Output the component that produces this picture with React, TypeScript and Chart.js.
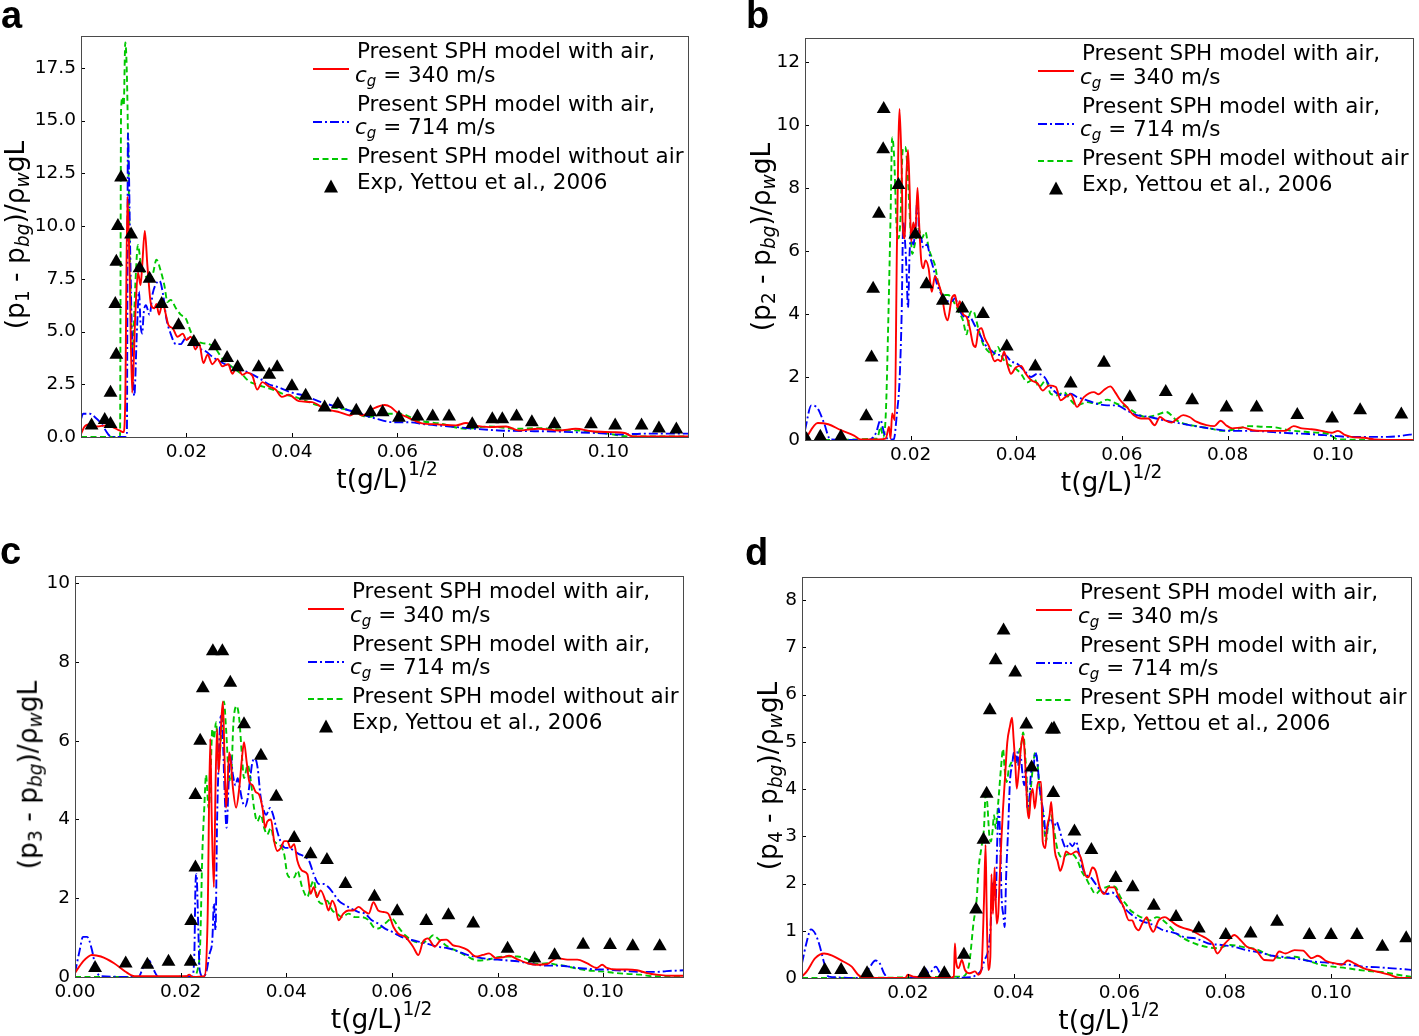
import React, { useEffect, useRef } from 'react';
import { Chart, registerables } from 'chart.js';

Chart.register(...registerables);

type Pt = [number, number];

// ---------- shared axis data ----------
const X_MAX = 0.1153;
const X_TICKS_ABD = [0.02, 0.04, 0.06, 0.08, 0.1];
const X_TICKS_C = [0, 0.02, 0.04, 0.06, 0.08, 0.1];
const Y_TICKS_A = [0, 2.5, 5, 7.5, 10, 12.5, 15, 17.5];
const Y_TICKS_B = [0, 2, 4, 6, 8, 10, 12];
const Y_TICKS_C = [0, 2, 4, 6, 8, 10];
const Y_TICKS_D = [0, 1, 2, 3, 4, 5, 6, 7, 8];

const LEGEND_AIR = 'Present SPH model with air,';
const LEGEND_NOAIR = 'Present SPH model without air';
const LEGEND_EXP = 'Exp, Yettou et al., 2006';
const CG_RED = '340 m/s';
const CG_BLUE = '714 m/s';
const X_TITLE = 't(g/L)';
const X_TITLE_SUP = '1/2';
const PANEL_LETTERS = ['a', 'b', 'c', 'd'];

// ---------- panel a ----------
const aRed: Pt[] = [
  [0, 0.15], [0.0007, 0.5], [0.002, 0.62], [0.003, 0.5], [0.0048, 0.55], [0.006, 0.47], [0.0073, 0.31], [0.0081, 0.23],
  [0.0084, 1.9], [0.0088, 11.4], [0.0092, 8.1], [0.0097, 2.1], [0.0103, 5.8], [0.0108, 7.8], [0.0113, 7.2], [0.0116, 8.1],
  [0.0121, 9.77], [0.0126, 8.1], [0.0133, 6.25], [0.0139, 6.1], [0.0143, 6.3], [0.0148, 5.8], [0.0155, 6.4], [0.016, 5.9],
  [0.0166, 5.3], [0.0174, 5.15], [0.0183, 4.75], [0.0193, 4.9], [0.02, 4.6], [0.0208, 4.75], [0.0217, 4.15], [0.0224, 4.45],
  [0.0232, 3.5], [0.024, 3.9], [0.0249, 3.45], [0.0259, 3.7], [0.0268, 3.35], [0.0279, 3.45], [0.0287, 3.0], [0.0296, 3.35],
  [0.0306, 2.95], [0.0315, 3.05], [0.0325, 2.9], [0.0334, 2.25], [0.0344, 2.6], [0.0356, 2.4], [0.0369, 2.25], [0.0381, 1.9],
  [0.0394, 2.0], [0.0413, 1.7], [0.0438, 1.65], [0.0463, 1.33], [0.0476, 1.25], [0.0491, 1.17], [0.051, 1.02], [0.0522, 1.17],
  [0.0533, 1.02], [0.0553, 1.33], [0.0576, 1.52], [0.0588, 1.41], [0.0599, 1.17], [0.0621, 0.91], [0.0645, 0.66], [0.0676, 0.6],
  [0.0711, 0.55], [0.073, 0.66], [0.0745, 0.55], [0.0776, 0.47], [0.0806, 0.5], [0.083, 0.31], [0.0868, 0.39], [0.0907, 0.31],
  [0.0938, 0.39], [0.0969, 0.27], [0.1008, 0.23], [0.1031, 0.19], [0.1046, 0.03], [0.1153, 0.03],
];
const aBlue: Pt[] = [
  [0, 0.85], [0.0004, 1.1], [0.0017, 1.1], [0.0026, 0.95], [0.0039, 0.62], [0.0051, 0.15], [0.0058, 0], [0.0086, 0],
  [0.0087, 0.1], [0.0089, 14.4], [0.0091, 12.5], [0.0093, 9.2], [0.0098, 3.4], [0.0101, 1.95], [0.0106, 5.0], [0.011, 6.9],
  [0.0113, 5.3], [0.0116, 4.9], [0.0119, 5.9], [0.0123, 6.25], [0.013, 5.8], [0.0136, 6.8], [0.0141, 7.2], [0.0149, 7.4],
  [0.0156, 6.7], [0.0162, 5.6], [0.017, 4.9], [0.018, 4.4], [0.0189, 4.4], [0.0199, 4.7], [0.0211, 4.5], [0.0224, 4.2],
  [0.0237, 4.05], [0.0249, 3.8], [0.0262, 3.6], [0.0281, 3.35], [0.03, 3.2], [0.0318, 3.05], [0.0337, 2.8], [0.0356, 2.5],
  [0.0375, 2.35], [0.04, 2.1], [0.0425, 1.95], [0.045, 1.7], [0.0499, 1.33], [0.053, 1.1], [0.0561, 0.86], [0.0592, 0.7],
  [0.0621, 0.7], [0.0652, 0.6], [0.0699, 0.5], [0.0746, 0.39], [0.0792, 0.31], [0.0838, 0.28], [0.0884, 0.27], [0.093, 0.23],
  [0.0977, 0.19], [0.1022, 0.12], [0.1069, 0.16], [0.1115, 0.16], [0.1153, 0.16],
];
const aGreen: Pt[] = [
  [0, 0], [0.0074, 0], [0.0076, 15.5], [0.0079, 16.1], [0.0081, 15.7], [0.0084, 18.7], [0.0087, 17.2], [0.009, 12.8],
  [0.0093, 8.1], [0.0096, 5.0], [0.0098, 4.2], [0.0103, 7.2], [0.0108, 9.1], [0.0114, 8.1], [0.012, 7.8], [0.013, 7.3],
  [0.0137, 7.8], [0.0143, 8.4], [0.0152, 7.8], [0.0158, 7.2], [0.0164, 6.4], [0.017, 6.5], [0.018, 6.1], [0.0189, 5.8],
  [0.0199, 5.6], [0.0208, 5.0], [0.0218, 4.6], [0.023, 4.45], [0.0243, 4.4], [0.0255, 4.2], [0.0268, 3.7], [0.028, 3.45],
  [0.0293, 3.2], [0.0306, 2.95], [0.0318, 2.65], [0.0331, 2.5], [0.035, 2.35], [0.0369, 2.2], [0.0388, 2.0], [0.0406, 1.9],
  [0.0432, 1.65], [0.045, 1.5], [0.0513, 1.25], [0.0544, 0.94], [0.0575, 1.1], [0.0606, 1.1], [0.0637, 0.8], [0.0683, 0.63],
  [0.0729, 0.39], [0.0775, 0.5], [0.0822, 0.39], [0.0868, 0.42], [0.0914, 0.34], [0.096, 0.28], [0.0999, 0.16], [0.1037, 0.03],
  [0.1153, 0.03],
];
const aExp: Pt[] = [
  [0.002, 0.55], [0.0045, 0.8], [0.0056, 0.62], [0.0056, 2.1], [0.0067, 3.9], [0.0065, 6.3], [0.0067, 8.3], [0.007, 10.0],
  [0.0076, 12.3], [0.0095, 9.6], [0.0111, 8.0], [0.013, 7.5], [0.0153, 6.3], [0.0185, 5.3], [0.0214, 4.5], [0.0254, 4.3],
  [0.0277, 3.75], [0.0297, 3.3], [0.0337, 3.3], [0.0357, 2.95], [0.0372, 3.3], [0.04, 2.4], [0.0426, 1.95], [0.0462, 1.4],
  [0.0487, 1.55], [0.0522, 1.25], [0.0549, 1.17], [0.0572, 1.17], [0.0603, 0.91], [0.0638, 0.97], [0.0667, 0.97], [0.0698, 0.97],
  [0.0742, 0.6], [0.078, 0.84], [0.0799, 0.84], [0.0826, 0.97], [0.0855, 0.7], [0.0898, 0.6], [0.0967, 0.6], [0.1013, 0.55],
  [0.1063, 0.55], [0.1096, 0.4], [0.1129, 0.35],
];

// ---------- panel b ----------
const bRed: Pt[] = [
  [0, 0], [0.0024, 0.54], [0.0044, 0.5], [0.0068, 0.31], [0.0093, 0.14], [0.0105, 0.02], [0.014, 0.02], [0.0153, 0.05],
  [0.0159, 0.42], [0.0162, 0.05], [0.0165, 0.84], [0.017, 0.63], [0.0174, 6.1], [0.0179, 10.5], [0.0183, 8.6], [0.0185, 6.8],
  [0.0189, 6.4], [0.0192, 8.4], [0.0195, 9.2], [0.0198, 8.0], [0.0201, 6.3], [0.0205, 6.9], [0.0209, 6.6], [0.0213, 8.0],
  [0.0216, 6.9], [0.022, 5.7], [0.0224, 5.45], [0.0228, 5.7], [0.0234, 5.45], [0.024, 4.7], [0.0246, 5.2], [0.0252, 5.0],
  [0.0259, 4.6], [0.0265, 4.0], [0.027, 3.8], [0.0278, 4.5], [0.0284, 4.6], [0.0289, 4.2], [0.0293, 4.4], [0.0299, 4.0],
  [0.0306, 3.9], [0.0312, 3.55], [0.0318, 3.05], [0.0323, 2.95], [0.0328, 3.45], [0.0334, 3.55], [0.034, 3.25], [0.0349, 2.95],
  [0.0359, 2.5], [0.0365, 2.55], [0.0371, 2.5], [0.0377, 2.8], [0.0384, 2.35], [0.039, 2.1], [0.0399, 2.3], [0.0409, 2.35],
  [0.0418, 2.1], [0.0428, 1.9], [0.044, 1.8], [0.045, 1.57], [0.0462, 1.73], [0.0475, 1.68], [0.0484, 1.26], [0.0493, 1.36],
  [0.0503, 1.45], [0.0515, 1.05], [0.0528, 1.36], [0.0547, 1.52], [0.0556, 1.45], [0.0565, 1.57], [0.0578, 1.7], [0.0587, 1.52],
  [0.0597, 1.26], [0.0609, 1.05], [0.0622, 0.79], [0.0637, 0.68], [0.065, 0.68], [0.0662, 0.47], [0.0672, 0.73], [0.0681, 0.63],
  [0.0694, 0.55], [0.0703, 0.65], [0.0716, 0.79], [0.0728, 0.73], [0.0741, 0.58], [0.076, 0.47], [0.0775, 0.44], [0.0787, 0.61],
  [0.0797, 0.47], [0.0809, 0.37], [0.0828, 0.4], [0.0847, 0.31], [0.0866, 0.29], [0.0909, 0.29], [0.0925, 0.44], [0.0941, 0.37],
  [0.0959, 0.34], [0.0978, 0.29], [0.0997, 0.23], [0.1009, 0.29], [0.1022, 0.16], [0.1034, 0.1], [0.1059, 0.07], [0.1078, 0.02],
  [0.1153, 0],
];
const bBlue: Pt[] = [
  [0, 0.31], [0.0012, 1.1], [0.0024, 1.0], [0.0036, 0.54], [0.0048, 0.02], [0.0121, 0], [0.0134, 0.21], [0.0143, 0.63],
  [0.015, 0.21], [0.0159, 0.02], [0.0168, 0.02], [0.0174, 0.84], [0.0179, 1.89], [0.0183, 4.0], [0.0186, 6.9], [0.0189, 6.4],
  [0.0192, 5.45], [0.0195, 4.2], [0.0198, 5.9], [0.0201, 6.6], [0.0205, 6.2], [0.0209, 6.7], [0.0213, 7.65], [0.0216, 6.6],
  [0.022, 6.4], [0.0224, 6.1], [0.0231, 6.2], [0.0237, 5.8], [0.0243, 5.45], [0.0249, 5.0], [0.0259, 4.6], [0.0268, 4.4],
  [0.0278, 4.4], [0.0284, 4.5], [0.0293, 4.1], [0.0303, 3.9], [0.0312, 3.9], [0.0321, 3.65], [0.0331, 3.35], [0.034, 3.05],
  [0.0353, 2.83], [0.0365, 2.7], [0.0378, 2.7], [0.039, 2.5], [0.0403, 2.4], [0.0415, 2.2], [0.0428, 2.0], [0.044, 2.1],
  [0.0453, 2.0], [0.0465, 1.68], [0.0478, 1.47], [0.049, 1.42], [0.0503, 1.47], [0.0515, 1.36], [0.0534, 1.26], [0.0553, 1.15],
  [0.0572, 1.1], [0.059, 1.1], [0.0609, 0.94], [0.0628, 0.79], [0.0653, 0.73], [0.0678, 0.63], [0.0703, 0.55], [0.0728, 0.47],
  [0.0753, 0.4], [0.0778, 0.34], [0.0803, 0.29], [0.0853, 0.29], [0.0878, 0.26], [0.0903, 0.23], [0.0928, 0.21], [0.0953, 0.19],
  [0.0978, 0.16], [0.1003, 0.13], [0.1028, 0.1], [0.1103, 0.1], [0.1128, 0.13], [0.1153, 0.19],
];
const bGreen: Pt[] = [
  [0, 0], [0.0137, 0.05], [0.0143, 0.42], [0.0148, 0.1], [0.0153, 0.84], [0.0158, 4.0], [0.0162, 7.1], [0.0165, 9.6],
  [0.0169, 8.9], [0.0173, 6.9], [0.0177, 6.4], [0.0181, 7.1], [0.0185, 9.2], [0.019, 9.3], [0.0194, 8.6], [0.0199, 6.9],
  [0.0203, 5.9], [0.0209, 6.3], [0.0215, 6.7], [0.0221, 6.4], [0.0228, 6.6], [0.0234, 6.1], [0.024, 5.8], [0.0246, 5.55],
  [0.0252, 5.0], [0.0262, 4.6], [0.0271, 4.6], [0.0281, 4.4], [0.029, 4.1], [0.0299, 3.8], [0.0306, 3.35], [0.0312, 4.0],
  [0.0318, 4.1], [0.0328, 3.55], [0.0337, 3.05], [0.0346, 2.83], [0.0356, 2.7], [0.0365, 2.95], [0.0374, 2.6], [0.0384, 2.4],
  [0.0396, 2.3], [0.0409, 2.1], [0.0421, 1.83], [0.0434, 1.94], [0.0443, 1.68], [0.0456, 1.89], [0.0465, 1.47], [0.0478, 1.42],
  [0.049, 1.52], [0.0503, 1.26], [0.0515, 1.1], [0.0534, 1.2], [0.0553, 1.15], [0.0572, 1.28], [0.059, 1.15], [0.0609, 1.05],
  [0.0628, 0.84], [0.0647, 0.73], [0.0665, 0.79], [0.0684, 0.89], [0.0703, 0.63], [0.0722, 0.5], [0.0741, 0.44], [0.0766, 0.37],
  [0.0791, 0.29], [0.0816, 0.34], [0.0841, 0.44], [0.0866, 0.42], [0.0891, 0.4], [0.0916, 0.31], [0.0947, 0.26], [0.0972, 0.23],
  [0.0991, 0.19], [0.1009, 0.02], [0.1153, 0],
];
const bExp: Pt[] = [
  [0.0003, 0.02], [0.0029, 0.1], [0.0068, 0.1], [0.0116, 0.75], [0.0126, 2.62], [0.0129, 4.8], [0.014, 7.18], [0.0148, 9.22],
  [0.0149, 10.5], [0.0177, 8.09], [0.0209, 6.52], [0.023, 4.94], [0.0261, 4.42], [0.0298, 4.17], [0.0337, 4.0], [0.0382, 2.97],
  [0.0436, 2.33], [0.0503, 1.79], [0.0566, 2.45], [0.0615, 1.36], [0.0683, 1.52], [0.0733, 1.26], [0.0798, 1.03], [0.0855, 1.03],
  [0.0932, 0.79], [0.0998, 0.68], [0.1051, 0.94], [0.1129, 0.81],
];

// ---------- panel c ----------
const cRed: Pt[] = [
  [0, 0.1], [0.0015, 0.39], [0.0032, 0.56], [0.0049, 0.52], [0.0074, 0.35], [0.0095, 0.14], [0.0113, 0.02], [0.0211, 0.02],
  [0.0216, 0.06], [0.0223, 0], [0.0245, 0.02], [0.0251, 1.44], [0.0256, 6.05], [0.0259, 3.95], [0.0263, 2.28], [0.0266, 4.8],
  [0.0269, 6.3], [0.0272, 5.2], [0.0277, 6.5], [0.028, 7.0], [0.0283, 5.6], [0.0286, 4.3], [0.0289, 4.96], [0.0292, 5.7],
  [0.0295, 5.46], [0.0299, 4.8], [0.0305, 4.3], [0.0311, 4.8], [0.0316, 5.54], [0.032, 5.96], [0.0325, 5.46], [0.033, 4.96],
  [0.0336, 4.87], [0.0342, 4.7], [0.0349, 4.62], [0.0355, 4.29], [0.036, 3.79], [0.0364, 3.95], [0.0371, 4.0], [0.0377, 3.45],
  [0.0383, 3.2], [0.039, 3.28], [0.0396, 3.45], [0.0402, 3.45], [0.0408, 3.28], [0.0415, 3.37], [0.0421, 2.95], [0.043, 2.7],
  [0.044, 2.61], [0.0446, 2.11], [0.0452, 2.28], [0.0458, 2.03], [0.0465, 2.2], [0.0474, 1.94], [0.048, 1.69], [0.0487, 1.94],
  [0.0493, 1.78], [0.0499, 1.44], [0.0508, 1.61], [0.0518, 1.69], [0.0527, 1.69], [0.0537, 1.78], [0.0546, 1.69], [0.0556, 1.61],
  [0.0565, 1.9], [0.0574, 1.69], [0.0584, 1.65], [0.0593, 1.61], [0.0603, 1.27], [0.0612, 1.1], [0.0625, 1.02], [0.064, 0.77],
  [0.065, 0.56], [0.0659, 0.9], [0.0668, 0.98], [0.0681, 0.77], [0.0693, 0.94], [0.0703, 0.95], [0.0715, 0.81], [0.0728, 0.77],
  [0.0743, 0.69], [0.0759, 0.52], [0.0772, 0.56], [0.0784, 0.6], [0.0797, 0.48], [0.081, 0.5], [0.0822, 0.54], [0.0838, 0.45],
  [0.0857, 0.35], [0.0875, 0.31], [0.0894, 0.33], [0.0913, 0.48], [0.0932, 0.44], [0.0951, 0.44], [0.0969, 0.35], [0.0988, 0.23],
  [0.0998, 0.31], [0.1007, 0.23], [0.1026, 0.19], [0.1045, 0.19], [0.1064, 0.17], [0.1083, 0.1], [0.1101, 0.06], [0.1133, 0.03],
  [0.1153, 0.03],
];
const cBlue: Pt[] = [
  [0, 0.1], [0.0009, 0.69], [0.0015, 1.02], [0.0023, 1.02], [0.0032, 0.69], [0.004, 0.18], [0.0049, 0.02], [0.012, 0],
  [0.013, 0.27], [0.014, 0.42], [0.0149, 0.18], [0.0158, 0], [0.0222, 0.02], [0.0226, 0.6], [0.0228, 2.28], [0.023, 2.61],
  [0.0233, 1.44], [0.0236, 0.18], [0.0242, 0.02], [0.0248, 0.1], [0.0255, 0.6], [0.026, 0.94], [0.0263, 1.86], [0.0266, 1.19],
  [0.0269, 3.95], [0.0272, 5.46], [0.0276, 6.63], [0.028, 6.05], [0.0283, 4.8], [0.0287, 3.79], [0.0291, 4.96], [0.0294, 5.63],
  [0.0299, 5.13], [0.0304, 4.87], [0.0308, 5.05], [0.0312, 4.8], [0.0317, 4.46], [0.0322, 4.33], [0.0327, 4.54], [0.0331, 4.96],
  [0.0336, 5.46], [0.0341, 5.54], [0.0346, 5.29], [0.0351, 4.62], [0.0356, 4.29], [0.0362, 4.12], [0.0369, 4.29], [0.0375, 4.12],
  [0.0381, 3.79], [0.0389, 3.45], [0.0398, 3.28], [0.0405, 3.28], [0.0415, 3.2], [0.0424, 3.12], [0.0433, 3.07], [0.0443, 2.95],
  [0.0452, 2.61], [0.0462, 2.36], [0.0471, 2.36], [0.048, 2.28], [0.049, 2.11], [0.0499, 1.94], [0.0512, 1.82], [0.0524, 1.73],
  [0.0537, 1.65], [0.0549, 1.61], [0.0562, 1.44], [0.0574, 1.36], [0.0587, 1.23], [0.06, 1.15], [0.0612, 1.06], [0.0625, 0.98],
  [0.0637, 0.94], [0.065, 0.9], [0.0668, 0.84], [0.0687, 0.77], [0.0706, 0.73], [0.0725, 0.65], [0.0743, 0.56], [0.0762, 0.5],
  [0.0781, 0.46], [0.08, 0.44], [0.0819, 0.42], [0.0838, 0.4], [0.0857, 0.35], [0.0875, 0.31], [0.0894, 0.29], [0.0913, 0.29],
  [0.0932, 0.27], [0.0951, 0.23], [0.0969, 0.21], [0.0988, 0.19], [0.1007, 0.19], [0.1026, 0.17], [0.1045, 0.15], [0.1064, 0.13],
  [0.1101, 0.13], [0.112, 0.15], [0.1153, 0.17],
];
const cGreen: Pt[] = [
  [0, 0], [0.0223, 0], [0.0232, 0.18], [0.0237, 0.85], [0.0241, 3.1], [0.0245, 4.37], [0.0248, 5.13], [0.0253, 4.29],
  [0.0256, 4.8], [0.026, 6.3], [0.0263, 6.05], [0.0267, 6.47], [0.0272, 5.46], [0.0277, 6.2], [0.0282, 7.0], [0.0286, 6.3],
  [0.0291, 5.13], [0.0295, 4.96], [0.03, 6.47], [0.0306, 6.88], [0.0311, 6.55], [0.0316, 5.63], [0.032, 5.05], [0.0327, 5.38],
  [0.0333, 4.96], [0.0339, 4.29], [0.0345, 3.95], [0.0352, 4.12], [0.0358, 3.79], [0.0364, 3.62], [0.0371, 3.79], [0.0377, 3.45],
  [0.0386, 3.37], [0.0396, 3.12], [0.0402, 2.61], [0.0408, 2.53], [0.0415, 2.53], [0.0421, 2.7], [0.043, 2.28], [0.044, 2.03],
  [0.0446, 2.28], [0.0452, 2.45], [0.0458, 2.03], [0.0468, 1.86], [0.0477, 1.94], [0.0487, 1.69], [0.0496, 1.61], [0.0505, 1.52],
  [0.0518, 1.61], [0.053, 1.52], [0.0543, 1.52], [0.0556, 1.44], [0.0565, 1.27], [0.0574, 1.23], [0.0587, 1.36], [0.06, 1.48],
  [0.0612, 1.27], [0.0625, 1.06], [0.0637, 0.94], [0.0656, 0.86], [0.0668, 0.94], [0.0678, 1.06], [0.069, 0.94], [0.0706, 0.77],
  [0.0725, 0.65], [0.0743, 0.52], [0.0762, 0.42], [0.0781, 0.44], [0.08, 0.5], [0.0819, 0.52], [0.0838, 0.52], [0.0857, 0.44],
  [0.0875, 0.33], [0.0894, 0.35], [0.0913, 0.31], [0.0932, 0.27], [0.0951, 0.21], [0.0969, 0.17], [0.0988, 0.15], [0.1007, 0.13],
  [0.1026, 0.1], [0.1045, 0.08], [0.107, 0.06], [0.1095, 0.02], [0.1153, 0.02],
];
const cExp: Pt[] = [
  [0.0038, 0.23], [0.0096, 0.34], [0.0137, 0.31], [0.0177, 0.39], [0.0219, 0.39], [0.022, 1.42], [0.0228, 2.78], [0.0228, 4.62],
  [0.0237, 6.0], [0.0242, 7.33], [0.0261, 8.27], [0.0279, 8.27], [0.0294, 7.47], [0.032, 6.42], [0.0352, 5.62], [0.0381, 4.58],
  [0.0415, 3.53], [0.0446, 3.12], [0.0477, 2.97], [0.0512, 2.36], [0.0567, 2.04], [0.061, 1.67], [0.0665, 1.42], [0.0707, 1.57],
  [0.0754, 1.36], [0.0819, 0.72], [0.087, 0.47], [0.0908, 0.55], [0.0962, 0.82], [0.1013, 0.81], [0.1056, 0.78], [0.1107, 0.78],
];

// ---------- panel d ----------
const dRed: Pt[] = [
  [0, 0.03], [0.0009, 0.14], [0.0025, 0.42], [0.0042, 0.52], [0.0058, 0.47], [0.0078, 0.35], [0.0094, 0.24], [0.0106, 0.07],
  [0.0118, 0], [0.0195, 0], [0.02, 0.07], [0.021, 0.03], [0.0277, 0], [0.0287, 0.03], [0.0289, 0.73], [0.0291, 0.38],
  [0.0296, 0.21], [0.0302, 0.38], [0.0308, 0.17], [0.0317, 0.1], [0.0327, 0.14], [0.0333, 0.07], [0.0339, 0.17], [0.0344, 1.64],
  [0.0347, 2.82], [0.0349, 1.5], [0.0352, 0.17], [0.0356, 0.45], [0.0358, 2.2], [0.0361, 1.36], [0.0364, 2.34], [0.0368, 1.15],
  [0.0371, 1.36], [0.0374, 2.2], [0.0377, 2.96], [0.038, 3.59], [0.0384, 4.29], [0.0388, 4.99], [0.0393, 5.33], [0.0397, 5.51],
  [0.04, 5.06], [0.0403, 4.57], [0.0406, 4.01], [0.041, 4.43], [0.0413, 4.78], [0.0417, 5.13], [0.042, 4.92], [0.0423, 4.29],
  [0.0426, 3.59], [0.0429, 3.38], [0.0432, 3.8], [0.0436, 4.01], [0.044, 3.59], [0.0446, 4.15], [0.0452, 4.15], [0.0455, 2.89],
  [0.046, 2.75], [0.0463, 3.17], [0.0468, 3.45], [0.0471, 3.73], [0.0474, 3.31], [0.0478, 2.68], [0.0483, 2.48], [0.0488, 2.27],
  [0.0493, 2.41], [0.0499, 2.68], [0.0508, 2.62], [0.0518, 2.68], [0.0527, 2.55], [0.0535, 2.2], [0.0541, 2.13], [0.0549, 2.34],
  [0.0555, 2.27], [0.0563, 1.92], [0.0571, 1.78], [0.058, 1.92], [0.059, 1.92], [0.0599, 1.71], [0.0608, 1.5], [0.0618, 1.22],
  [0.0624, 1.22], [0.063, 1.08], [0.0636, 1.01], [0.0643, 1.15], [0.0652, 1.29], [0.0658, 1.08], [0.0664, 0.98], [0.0674, 1.22],
  [0.0686, 1.29], [0.0696, 1.22], [0.0708, 1.12], [0.072, 1.06], [0.0736, 1.01], [0.0752, 0.91], [0.0764, 0.84], [0.0776, 0.73],
  [0.0785, 0.52], [0.0797, 0.7], [0.0809, 0.84], [0.0817, 0.91], [0.0829, 0.8], [0.0841, 0.66], [0.0858, 0.59], [0.0874, 0.38],
  [0.089, 0.37], [0.0902, 0.56], [0.0914, 0.52], [0.0931, 0.59], [0.0947, 0.58], [0.0963, 0.42], [0.0975, 0.47], [0.0992, 0.35],
  [0.1008, 0.31], [0.102, 0.28], [0.1032, 0.37], [0.1044, 0.31], [0.1061, 0.21], [0.1077, 0.16], [0.1093, 0.12], [0.111, 0.07],
  [0.113, 0], [0.1153, 0],
];
const dBlue: Pt[] = [
  [0, 0.31], [0.0009, 0.77], [0.0017, 1.03], [0.0025, 0.94], [0.0033, 0.7], [0.0042, 0.31], [0.005, 0.03], [0.0115, 0],
  [0.0127, 0.21], [0.0139, 0.37], [0.0147, 0.31], [0.0155, 0.1], [0.0164, 0], [0.0215, 0], [0.0224, 0.1], [0.0232, 0.21],
  [0.024, 0.1], [0.0253, 0.24], [0.0261, 0.1], [0.0269, 0], [0.0321, 0.02], [0.033, 0.07], [0.0339, 0.17], [0.0345, 0.38],
  [0.0352, 0.59], [0.0356, 1.01], [0.0359, 1.78], [0.0363, 2.06], [0.0366, 1.64], [0.0369, 2.89], [0.0372, 3.59], [0.0375, 2.75],
  [0.0377, 1.78], [0.0381, 1.29], [0.0383, 1.08], [0.0386, 2.2], [0.039, 3.24], [0.0393, 4.15], [0.0397, 4.5], [0.0401, 4.78],
  [0.0404, 4.57], [0.0407, 4.78], [0.041, 4.43], [0.0413, 4.71], [0.0417, 4.29], [0.042, 4.08], [0.0423, 4.43], [0.0426, 3.59],
  [0.043, 3.8], [0.0433, 4.36], [0.0437, 4.43], [0.0441, 4.78], [0.0445, 4.57], [0.0448, 4.15], [0.0452, 3.8], [0.0457, 3.45],
  [0.0461, 3.03], [0.0465, 3.24], [0.0471, 3.38], [0.0476, 3.17], [0.0481, 3.31], [0.0486, 3.17], [0.0493, 2.89], [0.0499, 2.75],
  [0.0505, 2.86], [0.0511, 2.79], [0.0518, 2.89], [0.0524, 2.62], [0.053, 2.34], [0.0536, 2.2], [0.0546, 2.13], [0.0555, 1.99],
  [0.0565, 1.85], [0.0577, 1.78], [0.0586, 1.81], [0.0596, 1.71], [0.0608, 1.5], [0.0621, 1.36], [0.0633, 1.26], [0.0646, 1.19],
  [0.0658, 1.15], [0.0671, 1.08], [0.0683, 1.01], [0.0696, 0.98], [0.0708, 0.94], [0.0721, 0.87], [0.0744, 0.84], [0.0768, 0.73],
  [0.0793, 0.7], [0.0817, 0.66], [0.0841, 0.59], [0.0866, 0.54], [0.089, 0.47], [0.0914, 0.44], [0.0939, 0.4], [0.0963, 0.35],
  [0.0988, 0.33], [0.1012, 0.3], [0.1036, 0.28], [0.1061, 0.24], [0.1085, 0.23], [0.111, 0.21], [0.1134, 0.19], [0.1153, 0.17],
];
const dGreen: Pt[] = [
  [0, 0], [0.0301, 0.03], [0.0311, 0.1], [0.0317, 0.38], [0.0324, 1.15], [0.033, 1.64], [0.0334, 2.34], [0.0339, 2.75],
  [0.0344, 3.17], [0.0347, 3.87], [0.035, 3.73], [0.0354, 3.03], [0.0357, 2.89], [0.036, 3.1], [0.0363, 3.45], [0.0366, 3.17],
  [0.0371, 3.73], [0.0376, 4.43], [0.038, 4.85], [0.0383, 4.43], [0.0387, 4.15], [0.0391, 4.43], [0.0396, 4.57], [0.0401, 4.71],
  [0.0405, 4.57], [0.041, 4.78], [0.0415, 4.99], [0.0418, 5.2], [0.0422, 4.71], [0.0425, 4.15], [0.0428, 3.45], [0.0432, 3.94],
  [0.0436, 4.43], [0.0441, 4.78], [0.0445, 4.57], [0.0448, 4.15], [0.0452, 3.8], [0.0457, 3.31], [0.0461, 2.89], [0.0466, 3.31],
  [0.0471, 3.45], [0.0476, 3.17], [0.0481, 2.82], [0.0486, 2.62], [0.0493, 2.55], [0.0502, 2.62], [0.0511, 2.62], [0.0521, 2.48],
  [0.0528, 2.27], [0.0536, 2.13], [0.0546, 1.92], [0.0555, 1.78], [0.0565, 1.88], [0.0574, 1.92], [0.0583, 1.95], [0.0593, 1.92],
  [0.0602, 1.71], [0.0612, 1.57], [0.0621, 1.43], [0.063, 1.36], [0.064, 1.29], [0.0649, 1.26], [0.0658, 1.22], [0.0671, 1.29],
  [0.0683, 1.22], [0.0696, 1.08], [0.0708, 0.94], [0.0721, 0.84], [0.0745, 0.72], [0.0768, 0.65], [0.0785, 0.63], [0.0809, 0.7],
  [0.0833, 0.66], [0.0858, 0.61], [0.0882, 0.49], [0.0906, 0.42], [0.0931, 0.45], [0.0955, 0.37], [0.098, 0.28], [0.1004, 0.24],
  [0.1028, 0.21], [0.1053, 0.17], [0.1077, 0.14], [0.1101, 0.12], [0.1126, 0.07], [0.1153, 0.02],
];
const dExp: Pt[] = [
  [0.0043, 0.17], [0.0074, 0.17], [0.0123, 0.1], [0.0231, 0.1], [0.0269, 0.1], [0.0306, 0.49], [0.0329, 1.45], [0.0343, 2.93],
  [0.0349, 3.9], [0.0355, 5.67], [0.0366, 6.73], [0.0381, 7.36], [0.0403, 6.47], [0.0424, 5.37], [0.0434, 4.46], [0.0472, 5.26],
  [0.0475, 3.92], [0.0515, 3.1], [0.0547, 2.71], [0.0593, 2.12], [0.0625, 1.92], [0.0665, 1.53], [0.0707, 1.29], [0.075, 1.05],
  [0.0801, 0.91], [0.0848, 0.94], [0.0898, 1.19], [0.0959, 0.91], [0.1, 0.91], [0.1049, 0.91], [0.1097, 0.66], [0.1142, 0.84],
];

// ---------- styling ----------
const FONT = '"DejaVu Sans", "Liberation Sans", sans-serif';
const RED = '#ff0000';
const BLUE = '#0000ff';
const GREEN = '#00c800';
const BLUE_DASH = [9, 3, 2, 3];
const GREEN_DASH = [6, 3.5];
const LINE_W = 1.9;
const LEG_SIZE = 21.5;

type PanelDef = {
  idx: number;
  L: number; T: number; R: number; B: number;
  yMax: number; yTicks: number[]; yDec: number; xTicks: number[];
  red: Pt[]; blue: Pt[]; green: Pt[]; exp: Pt[];
  letterX: number; letterY: number; yLabelX: number;
};

const PANELS: PanelDef[] = [
  { idx: 1, L: 81, T: 32, R: 693, B: 437, yMax: 19, yTicks: Y_TICKS_A, yDec: 1, xTicks: X_TICKS_ABD,
    red: aRed, blue: aBlue, green: aGreen, exp: aExp, letterX: 1, letterY: 28, yLabelX: 15 },
  { idx: 2, L: 805, T: 34, R: 1418, B: 440, yMax: 12.75, yTicks: Y_TICKS_B, yDec: 0, xTicks: X_TICKS_ABD,
    red: bRed, blue: bBlue, green: bGreen, exp: bExp, letterX: 746, letterY: 28, yLabelX: 761 },
  { idx: 3, L: 75, T: 572, R: 688, B: 977, yMax: 10.18, yTicks: Y_TICKS_C, yDec: 0, xTicks: X_TICKS_C,
    red: cRed, blue: cBlue, green: cGreen, exp: cExp, letterX: 0, letterY: 564, yLabelX: 28 },
  { idx: 4, L: 802, T: 573, R: 1416, B: 978, yMax: 8.49, yTicks: Y_TICKS_D, yDec: 0, xTicks: X_TICKS_ABD,
    red: dRed, blue: dBlue, green: dGreen, exp: dExp, letterX: 745, letterY: 565, yLabelX: 768 },
];

const toXY = (p: Pt) => ({ x: p[0], y: p[1] });

const framePlugin = {
  id: 'frameTicks',
  afterDraw(chart: any) {
    const { ctx, chartArea, scales } = chart;
    const { left, top, right, bottom } = chartArea;
    ctx.save();
    ctx.strokeStyle = '#000';
    ctx.lineWidth = 1;
    ctx.beginPath();
    for (const t of scales.x.ticks) {
      const px = Math.round(scales.x.getPixelForValue(t.value)) + 0.5;
      ctx.moveTo(px, bottom);
      ctx.lineTo(px, bottom - 4);
    }
    for (const t of scales.y.ticks) {
      const py = Math.round(scales.y.getPixelForValue(t.value)) + 0.5;
      ctx.moveTo(left, py);
      ctx.lineTo(left + 4, py);
    }
    ctx.stroke();
    ctx.strokeStyle = '#4a4a4a';
    ctx.strokeRect(Math.round(left) + 0.5, Math.round(top) + 0.5, Math.round(right - left) - 1, Math.round(bottom - top));
    ctx.restore();
  },
};

function Panel({ p }: { p: PanelDef }) {
  const ref = useRef<HTMLCanvasElement | null>(null);
  const padL = 70, padT = 12, padR = 4, padB = 32;
  const w = p.R - p.L + padL + padR;
  const h = p.B - p.T + padT + padB;
  useEffect(() => {
    if (!ref.current) return;
    const lineDs = (data: Pt[], color: string, dash: number[], order: number) => ({
      data: data.map(toXY), showLine: true, borderColor: color, borderWidth: LINE_W, borderDash: dash,
      pointRadius: 0, cubicInterpolationMode: 'monotone', fill: false, order,
    });
    const chart = new Chart(ref.current, {
      type: 'scatter',
      data: {
        datasets: [
          { data: p.exp.map(toXY), showLine: false, pointStyle: 'triangle', pointRadius: 8,
            pointBackgroundColor: '#000', pointBorderColor: '#000', pointBorderWidth: 0, order: 0 } as any,
          lineDs(p.red, RED, [], 1),
          lineDs(p.blue, BLUE, BLUE_DASH, 2),
          lineDs(p.green, GREEN, GREEN_DASH, 3),
        ],
      },
      options: {
        responsive: false, animation: false, devicePixelRatio: 1, events: [],
        layout: { padding: { left: 0, top: padT, right: padR, bottom: 0 } },
        plugins: { legend: { display: false }, tooltip: { enabled: false } },
        scales: {
          x: {
            type: 'linear', position: 'bottom', min: 0, max: X_MAX,
            afterFit: (s: any) => { s.height = padB; },
            afterBuildTicks: (s: any) => { s.ticks = p.xTicks.map((v) => ({ value: v })); },
            ticks: { callback: (v: any) => Number(v).toFixed(2), font: { family: FONT, size: 18.5 }, color: '#000',
              padding: 4, maxRotation: 0, autoSkip: false },
            grid: { display: false, drawTicks: false }, border: { display: false },
          },
          y: {
            type: 'linear', position: 'left', min: 0, max: p.yMax,
            afterFit: (s: any) => { s.width = padL; },
            afterBuildTicks: (s: any) => { s.ticks = p.yTicks.map((v) => ({ value: v })); },
            ticks: { callback: (v: any) => Number(v).toFixed(p.yDec), font: { family: FONT, size: 18.5 }, color: '#000',
              padding: 5, autoSkip: false },
            grid: { display: false, drawTicks: false }, border: { display: false },
          },
        },
      } as any,
      plugins: [framePlugin],
    });
    return () => chart.destroy();
  }, [p]);
  return (
    <canvas ref={ref} width={w} height={h}
      style={{ position: 'absolute', left: p.L - padL, top: p.T - padT, width: w, height: h }} />
  );
}

const Sub = ({ children }: any) => (
  <span style={{ position: 'relative', top: '0.26em', fontSize: '0.7em' }}>{children}</span>
);
const Sup = ({ children }: any) => (
  <span style={{ position: 'relative', top: '-0.68em', fontSize: '0.7em' }}>{children}</span>
);

function Txt({ x, y, size, children, anchor = 'start', family = FONT, weight = 400 }: any) {
  const top = y - 0.846 * size;
  const tx = anchor === 'middle' ? 'translateX(-50%)' : anchor === 'end' ? 'translateX(-100%)' : 'none';
  return (
    <div style={{ position: 'absolute', left: x, top, fontSize: size, lineHeight: 1, fontFamily: family,
      fontWeight: weight, whiteSpace: 'nowrap', transform: tx, color: '#000' }}>{children}</div>
  );
}

function Decor({ p }: { p: PanelDef }) {
  const tx = p.R - 336;
  const off = [26, 50, 79, 102.5, 131, 157.5];
  return (
    <>
      <Txt x={p.letterX} y={p.letterY} size={38} family='"Liberation Sans", Arial, sans-serif' weight={700}>
        {PANEL_LETTERS[p.idx - 1]}
      </Txt>
      <div style={{ position: 'absolute', left: p.yLabelX, top: (p.T + p.B) / 2, transform: 'translate(-50%,-50%) rotate(-90deg)',
        fontFamily: FONT, fontSize: 26.5, lineHeight: 1, whiteSpace: 'nowrap', color: '#000' }}>
        (p<Sub>{p.idx}</Sub> - p<Sub><i>bg</i></Sub>)/ρ<Sub><i>w</i></Sub>gL
      </div>
      <Txt x={(p.L + p.R) / 2} y={p.B + 51} size={26.5} anchor="middle">
        {X_TITLE}<Sup>{X_TITLE_SUP}</Sup>
      </Txt>
      <Txt x={tx} y={p.T + off[0]} size={LEG_SIZE}>{LEGEND_AIR}</Txt>
      <Txt x={tx - 2} y={p.T + off[1]} size={LEG_SIZE}><i>c</i><Sub><i>g</i></Sub> = {CG_RED}</Txt>
      <Txt x={tx} y={p.T + off[2]} size={LEG_SIZE}>{LEGEND_AIR}</Txt>
      <Txt x={tx - 2} y={p.T + off[3]} size={LEG_SIZE}><i>c</i><Sub><i>g</i></Sub> = {CG_BLUE}</Txt>
      <Txt x={tx} y={p.T + off[4]} size={LEG_SIZE}>{LEGEND_NOAIR}</Txt>
      <Txt x={tx} y={p.T + off[5]} size={LEG_SIZE}>{LEGEND_EXP}</Txt>
    </>
  );
}

function LegendHandles() {
  return (
    <svg width={1419} height={1036} style={{ position: 'absolute', left: 0, top: 0, pointerEvents: 'none' }}>
      {PANELS.map((p) => {
        const x1 = p.R - 380, x2 = p.R - 344, xt = p.R - 362;
        return (
          <g key={p.idx}>
            <line x1={x1} x2={x2} y1={p.T + 37} y2={p.T + 37} stroke={RED} strokeWidth={LINE_W} />
            <line x1={x1} x2={x2} y1={p.T + 90} y2={p.T + 90} stroke={BLUE} strokeWidth={LINE_W} strokeDasharray={BLUE_DASH.join(' ')} />
            <line x1={x1} x2={x2} y1={p.T + 127} y2={p.T + 127} stroke={GREEN} strokeWidth={LINE_W} strokeDasharray={GREEN_DASH.join(' ')} />
            <polygon points={`${xt},${p.T + 147.5} ${xt - 7},${p.T + 160.5} ${xt + 7},${p.T + 160.5}`} fill="#000" />
          </g>
        );
      })}
    </svg>
  );
}

export default function App() {
  return (
    <div style={{ position: 'absolute', left: 0, top: 0, width: 1419, height: 1036, background: '#fff', overflow: 'hidden' }}>
      {PANELS.map((p) => <Panel key={p.idx} p={p} />)}
      {PANELS.map((p) => <Decor key={p.idx} p={p} />)}
      <LegendHandles />
    </div>
  );
}
